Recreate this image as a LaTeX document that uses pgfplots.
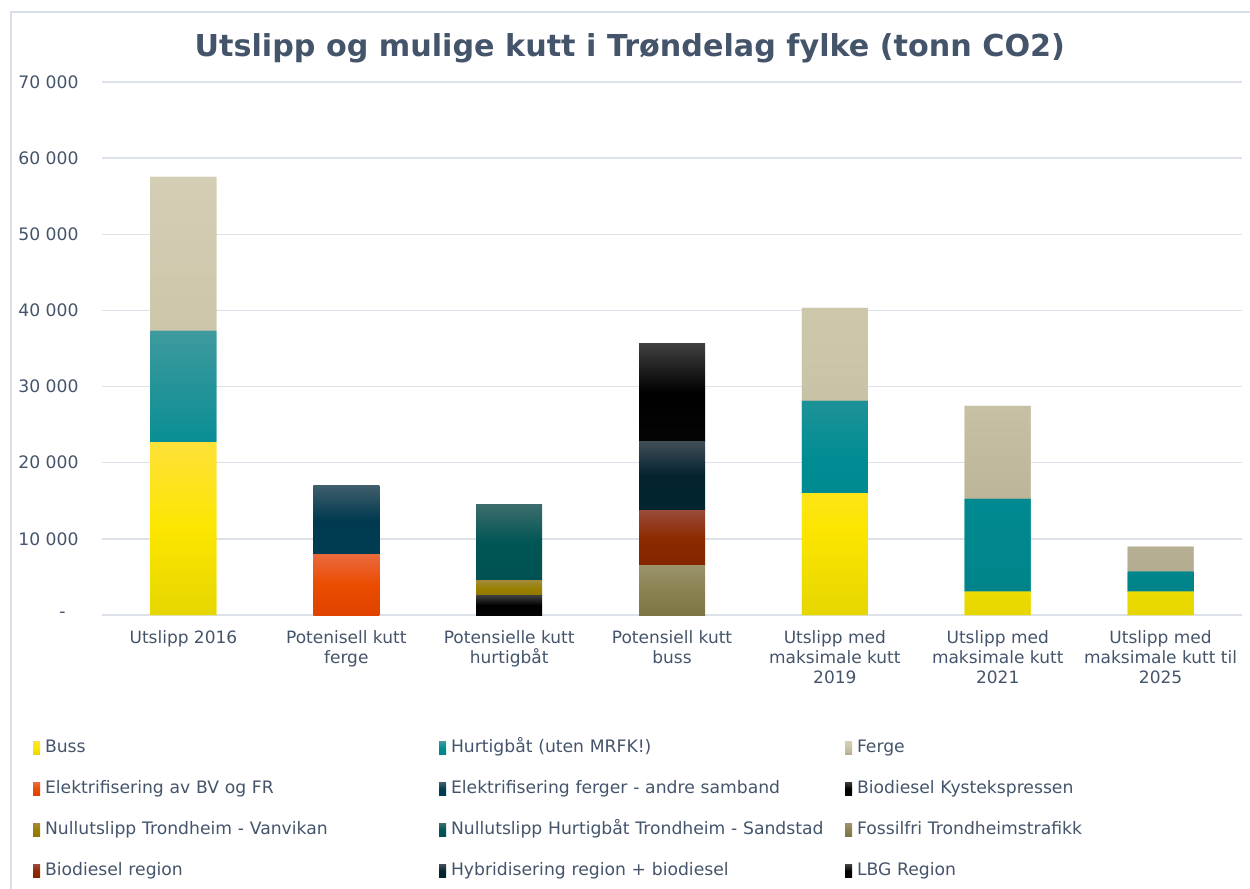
\documentclass[border=0pt]{standalone}
\usepackage{fontspec}
\setmainfont{DejaVu Sans}
\usepackage{pgfplots}
\pgfplotsset{compat=1.18}
\usepackage{pgfplotstable}
\definecolor{txt}{HTML}{44546A}
\definecolor{gridc}{HTML}{DDE2EA}
\definecolor{frame}{HTML}{D9DEE8}
\definecolor{bussT}{HTML}{FEE13A}\definecolor{bussM}{HTML}{FCE600}\definecolor{bussB}{HTML}{E6D600}
\definecolor{hurT}{HTML}{3E9A9E}\definecolor{hurM}{HTML}{008C93}\definecolor{hurB}{HTML}{00848A}
\definecolor{ferT}{HTML}{D3CEB4}\definecolor{ferM}{HTML}{CAC4A8}\definecolor{ferB}{HTML}{B3AC91}
\definecolor{elbT}{HTML}{EA6A3E}\definecolor{elbM}{HTML}{EB4C00}\definecolor{elbB}{HTML}{E04200}
\definecolor{elfT}{HTML}{3E5D6A}\definecolor{elfM}{HTML}{013A50}\definecolor{elfB}{HTML}{003D52}
\definecolor{bkT}{HTML}{3A3A3A}\definecolor{bkM}{HTML}{000000}\definecolor{bkB}{HTML}{050505}
\definecolor{vanT}{HTML}{A08A36}\definecolor{vanM}{HTML}{9A8000}\definecolor{vanB}{HTML}{8E7700}
\definecolor{sanT}{HTML}{3C6C6C}\definecolor{sanM}{HTML}{005555}\definecolor{sanB}{HTML}{005252}
\definecolor{fosT}{HTML}{9A936C}\definecolor{fosM}{HTML}{8B8250}\definecolor{fosB}{HTML}{7E7545}
\definecolor{brT}{HTML}{9A4B3A}\definecolor{brM}{HTML}{8C2A00}\definecolor{brB}{HTML}{832600}
\definecolor{hyT}{HTML}{3F4D55}\definecolor{hyM}{HTML}{03222F}\definecolor{hyB}{HTML}{02252F}
\definecolor{lbT}{HTML}{404040}\definecolor{lbM}{HTML}{000000}\definecolor{lbB}{HTML}{050505}
\pgfplotsset{seg/.style n args={3}{draw=none, fill=#2, top color=#1, bottom color=#3, middle color=#2,
  legend image code/.code={\fill[#2] (0pt,-3.25pt) rectangle (3.5pt,3.25pt);}}}
\begin{document}
\begin{tikzpicture}
\useasboundingbox (-51pt,-137pt) rectangle (574pt,307.5pt);
\pgfplotstableread{
x buss hurtig ferge elbv elferge biokyst vanvikan sandstad fossil bioreg hybrid lbg
0 22700 14600 20230 0 0 0 0 0 0 0 0 0
1 0 0 0 8000 8950 0 0 0 0 0 0 0
2 0 0 0 0 0 2500 2000 9950 0 0 0 0
3 0 0 0 0 0 0 0 0 6440 7320 8970 12970
4 16000 12130 12220 0 0 0 0 0 0 0 0 0
5 3060 12180 12220 0 0 0 0 0 0 0 0 0
6 3060 2630 3290 0 0 0 0 0 0 0 0 0
}\data
\begin{axis}[
  scale only axis, width=570pt, height=266.5pt,
  ybar stacked, bar width=33pt,
  xmin=-0.5, xmax=6.5, ymin=0, ymax=70000,
  scaled y ticks=false,
  axis line style={draw=none}, major tick length=0pt,
  ymajorgrids, grid style={color=gridc, line width=0.7pt},
  ytick={0,10000,20000,30000,40000,50000,60000,70000},
  yticklabels={-\hspace*{6.5pt},10 000,20 000,30 000,40 000,50 000,60 000,70 000},
  yticklabel style={anchor=east, inner sep=0pt, xshift=-11.5pt, font=\fontsize{8.6}{10}\selectfont, text=txt},
  xtick={0,1,2,3,4,5,6},
  xticklabels={Utslipp 2016, Potenisell kutt\\ferge, Potensielle kutt\\hurtigbåt, Potensiell kutt\\buss, Utslipp med\\maksimale kutt\\2019, Utslipp med\\maksimale kutt\\2021, Utslipp med\\maksimale kutt til\\2025},
  xticklabel style={anchor=north, align=center, inner sep=0pt, yshift=-7.5pt, font=\fontsize{8.5}{10}\selectfont, text=txt},
  title={Utslipp og mulige kutt i Trøndelag fylke (tonn CO2)},
  title style={at={(axis description cs:0.463,1.0245)}, anchor=base, font=\fontsize{15.1}{18}\selectfont\bfseries, text=txt, inner sep=0pt},
  legend columns=3,
  legend style={at={(axis description cs:-0.0605,-0.2326)}, anchor=north west, draw=none, fill=none,
    inner sep=0pt, outer sep=0pt, row sep=11.5pt, column sep=0pt,
    /tikz/every odd column/.append style={column sep=2.5pt},
    cells={anchor=west},
    nodes={text width=197pt, inner sep=0pt, text height=7pt, text depth=2pt, font=\fontsize{8.6}{10}\selectfont, text=txt, align=left}},
]
\addplot[seg={bussT}{bussM}{bussB}] table[x=x,y=buss]{\data};
\addlegendentry{Buss}
\addplot[seg={hurT}{hurM}{hurB}] table[x=x,y=hurtig]{\data};
\addlegendentry{Hurtigbåt (uten MRFK!)}
\addplot[seg={ferT}{ferM}{ferB}] table[x=x,y=ferge]{\data};
\addlegendentry{Ferge}
\addplot[seg={elbT}{elbM}{elbB}] table[x=x,y=elbv]{\data};
\addlegendentry{Elektrifisering av BV og FR}
\addplot[seg={elfT}{elfM}{elfB}] table[x=x,y=elferge]{\data};
\addlegendentry{Elektrifisering ferger - andre samband}
\addplot[seg={bkT}{bkM}{bkB}] table[x=x,y=biokyst]{\data};
\addlegendentry{Biodiesel Kystekspressen}
\addplot[seg={vanT}{vanM}{vanB}] table[x=x,y=vanvikan]{\data};
\addlegendentry{Nullutslipp Trondheim - Vanvikan}
\addplot[seg={sanT}{sanM}{sanB}] table[x=x,y=sandstad]{\data};
\addlegendentry{Nullutslipp Hurtigbåt Trondheim - Sandstad}
\addplot[seg={fosT}{fosM}{fosB}] table[x=x,y=fossil]{\data};
\addlegendentry{Fossilfri Trondheimstrafikk}
\addplot[seg={brT}{brM}{brB}] table[x=x,y=bioreg]{\data};
\addlegendentry{Biodiesel region}
\addplot[seg={hyT}{hyM}{hyB}] table[x=x,y=hybrid]{\data};
\addlegendentry{Hybridisering region + biodiesel}
\addplot[seg={lbT}{lbM}{lbB}] table[x=x,y=lbg]{\data};
\addlegendentry{LBG Region}
\end{axis}
\draw[frame, line width=0.75pt] (-45.5pt,-137pt) -- (-45.5pt,301.5pt) -- (574pt,301.5pt);
\end{tikzpicture}
\end{document}
